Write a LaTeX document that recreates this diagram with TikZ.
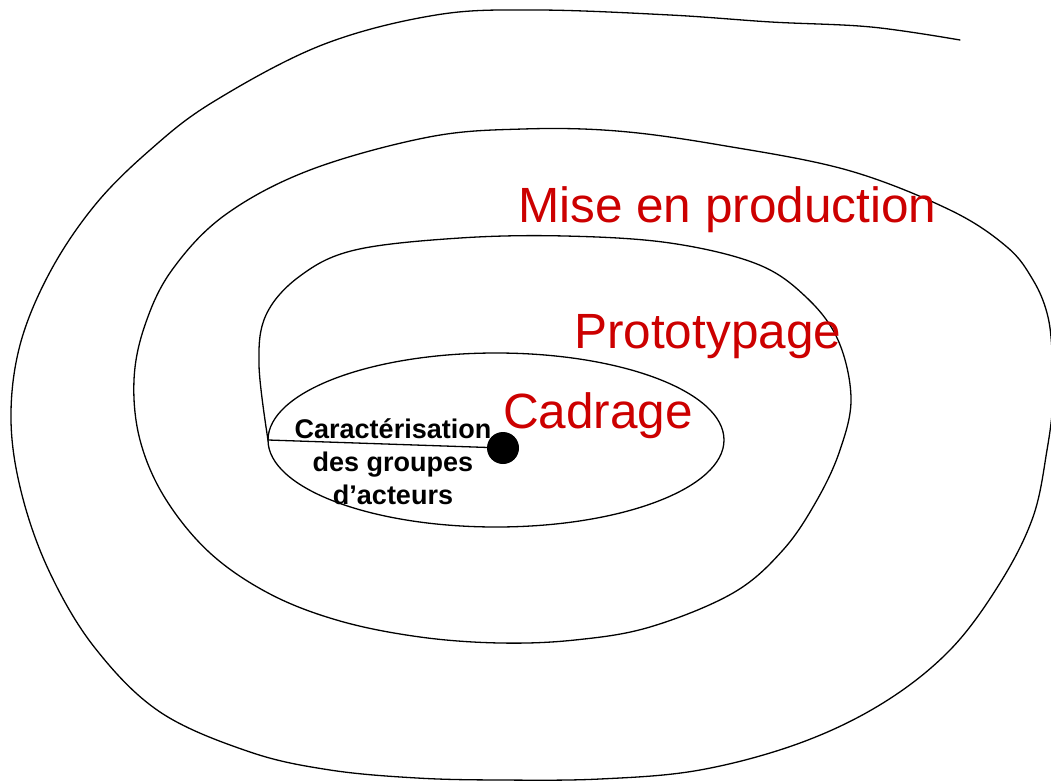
\documentclass[tikz,border=0pt]{standalone}
\usepackage{fontspec}
\setmainfont{Liberation Sans}
\usetikzlibrary{positioning}

\begin{document}
\begin{tikzpicture}[x=1pt, y=-1pt]
  \definecolor{darkred}{HTML}{CC0000}
  \tikzstyle{spiral} = [line width=1.3pt, line join=round, line cap=round]
  \tikzstyle{phase}  = [anchor=base west, inner sep=0pt, text=darkred, font=\fontsize{49.5}{49.5}\selectfont]
  \tikzstyle{desc}   = [anchor=north, inner sep=0pt, align=center, font=\bfseries\fontsize{27}{33}\selectfont]
  \useasboundingbox (0,0) rectangle (1051,781);
  \clip (0,0) rectangle (1051,781);
  \coordinate (start) at (268,440);
  \node [circle, fill=black, minimum size=32pt, inner sep=0pt] (dot) at (503,448) {};
  \draw [spiral] (start) -- (dot);
  % inner loop
  \draw [spiral] (start) arc [start angle=180, end angle=540, x radius=228, y radius=87];
  % middle and outer loops
  \draw [spiral] plot [smooth, tension=0.6] coordinates {(start) (259,365) (266,315) (300,276) (355,250) (460,238) (565,236) (670,243) (757,264) (806,297) (838,340) (851,398) (840,450) (817,500) (783,550) (733,593) (650,627) (575,640) (500,643) (420,637) (340,621) (270,594) (210,553) (165,498) (140,440) (134,380) (145,325) (172,270) (225,215) (310,170) (429,137) (523,129) (617,131) (720,145) (847,170) (950,210) (1007,247) (1033,280) (1047,313) (1052,350) (1053,400) (1047,450) (1033,517) (1000,583) (950,650) (883,703) (800,743) (700,770) (600,779) (500,780) (417,778) (330,770) (250,752) (160,712) (95,648) (50,573) (22,495) (11,420) (20,345) (50,272) (95,205) (150,150) (213,102) (322,45) (436,15) (536,10) (670,15) (771,22) (871,27) (960,40)};
  \node [phase] (production) at (518,222) {Mise en production};
  \node [phase] (prototypage) at (574,348) {Prototypage};
  \node [phase] (cadrage) at (503,428) {Cadrage};
  \node [desc] (acteurs) at (393,418) {Caractérisation\\des groupes\\d’acteurs};
\end{tikzpicture}
\end{document}
